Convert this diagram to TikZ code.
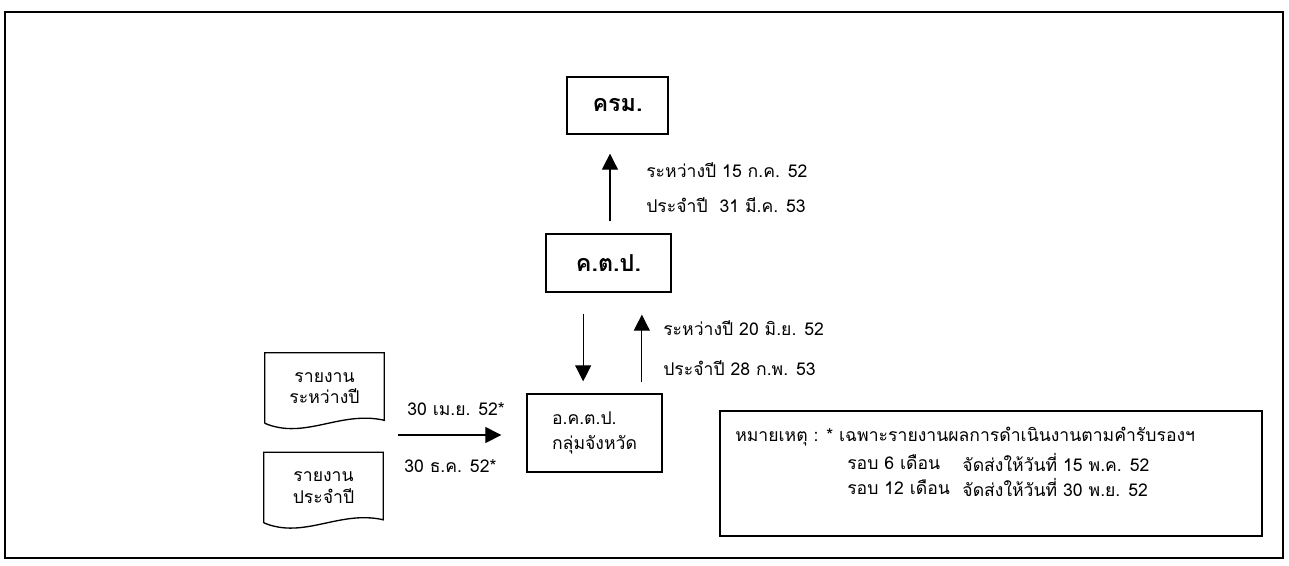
\documentclass[tikz,border=0pt]{standalone}
\usepackage{fontspec}
\setmainfont{Loma}[Script=Thai]
\usetikzlibrary{arrows.meta,calc}
\begin{document}
\begin{tikzpicture}[x=0.75pt,y=-0.75pt,
  every node/.style={font=\fontsize{13.2pt}{16pt}\selectfont},
  bigbox/.style={draw,line width=1pt,inner sep=0pt,font=\fontsize{17.5pt}{20pt}\selectfont\bfseries},
  plainbox/.style={draw,line width=1pt,inner sep=0pt},
  lbl/.style={anchor=west,inner sep=0pt},
  arr/.style={line width=0.9pt,-{Triangle[length=12pt,width=12pt]}},
  docbox/.style={inner sep=0pt,align=center,minimum width=89.25pt,minimum height=52.5pt},
  docline/.style={line width=1pt}]
\useasboundingbox (0,0) rectangle (1289,565);
\draw[line width=1.5pt] (5,12) rectangle (1283,558);
% main boxes
\node[bigbox,minimum width=75.75pt,minimum height=42.75pt] (krm) at (617.5,105.5) {ครม.};
\node[bigbox,minimum width=93.75pt,minimum height=43.5pt] (kdp) at (608.5,263) {ค.ต.ป.};
\node[plainbox,minimum width=101.25pt,minimum height=58.5pt,align=left] (okdp) at (594.5,433) {อ.ค.ต.ป.\\[3pt]กลุ่มจังหวัด};
% documents
\node[docbox] (doc1) at (324.5,388) {รายงาน\\ระหว่างปี};
\node[docbox] (doc2) at (323.5,487.5) {รายงาน\\ประจำปี};
\foreach \d in {doc1,doc2}{
  \draw[docline] (\d.south west) -- (\d.north west) -- (\d.north east) -- ($(\d.south east)+(0,-3)$)
    .. controls ($(\d.south east)+(-44,-13)$) and ($(\d.south west)+(40,17)$) .. (\d.south west);
}
% arrows
\coordinate (a1) at ([xshift=1.1pt]kdp.north);
\draw[arr,shorten <=9pt,shorten >=14.25pt] (a1) -- (a1 |- krm.south);
\coordinate (a2) at ([xshift=-19pt]kdp.south);
\draw[arr,shorten <=15.75pt,shorten >=9pt] (a2) -- (a2 |- okdp.north);
\coordinate (a3) at ([xshift=25pt]kdp.south);
\draw[arr,shorten <=8.25pt,shorten >=16.5pt] (a3 |- okdp.north) -- (a3);
\coordinate (hstart) at (398,435);
\draw[arr,shorten >=18.75pt] (hstart) -- (hstart -| okdp.west);
% labels
\node[lbl] (l1) at (646,170) {ระหว่างปี 15 ก.ค. 52};
\node[lbl] (l2) at (646,205) {ประจำปี\ \ 31 มี.ค. 53};
\node[lbl] (l3) at (663,328) {ระหว่างปี 20 มิ.ย. 52};
\node[lbl] (l4) at (663,368) {ประจำปี 28 ก.พ. 53};
\node[lbl] (l5) at (407,409) {30 เม.ย. 52*};
\node[lbl] (l6) at (404,466) {30 ธ.ค. 52*};
% note
\node[plainbox,minimum width=406.5pt,minimum height=93.75pt] (note) at (991,473.5) {};
\node[lbl] (n1) at (735,437) {หมายเหตุ : * เฉพาะรายงานผลการดำเนินงานตามคำรับรองฯ};
\node[lbl] (n2) at (847,462) {รอบ 6 เดือน};
\node[lbl] (n3) at (847,487) {รอบ 12 เดือน};
\node[lbl] (n3b) at ([xshift=9pt]n3.east) {จัดส่งให้วันที่ 30 พ.ย. 52};
\node[lbl] (n2b) at (n3b.west |- n2.west) {จัดส่งให้วันที่ 15 พ.ค. 52};
\end{tikzpicture}
\end{document}
